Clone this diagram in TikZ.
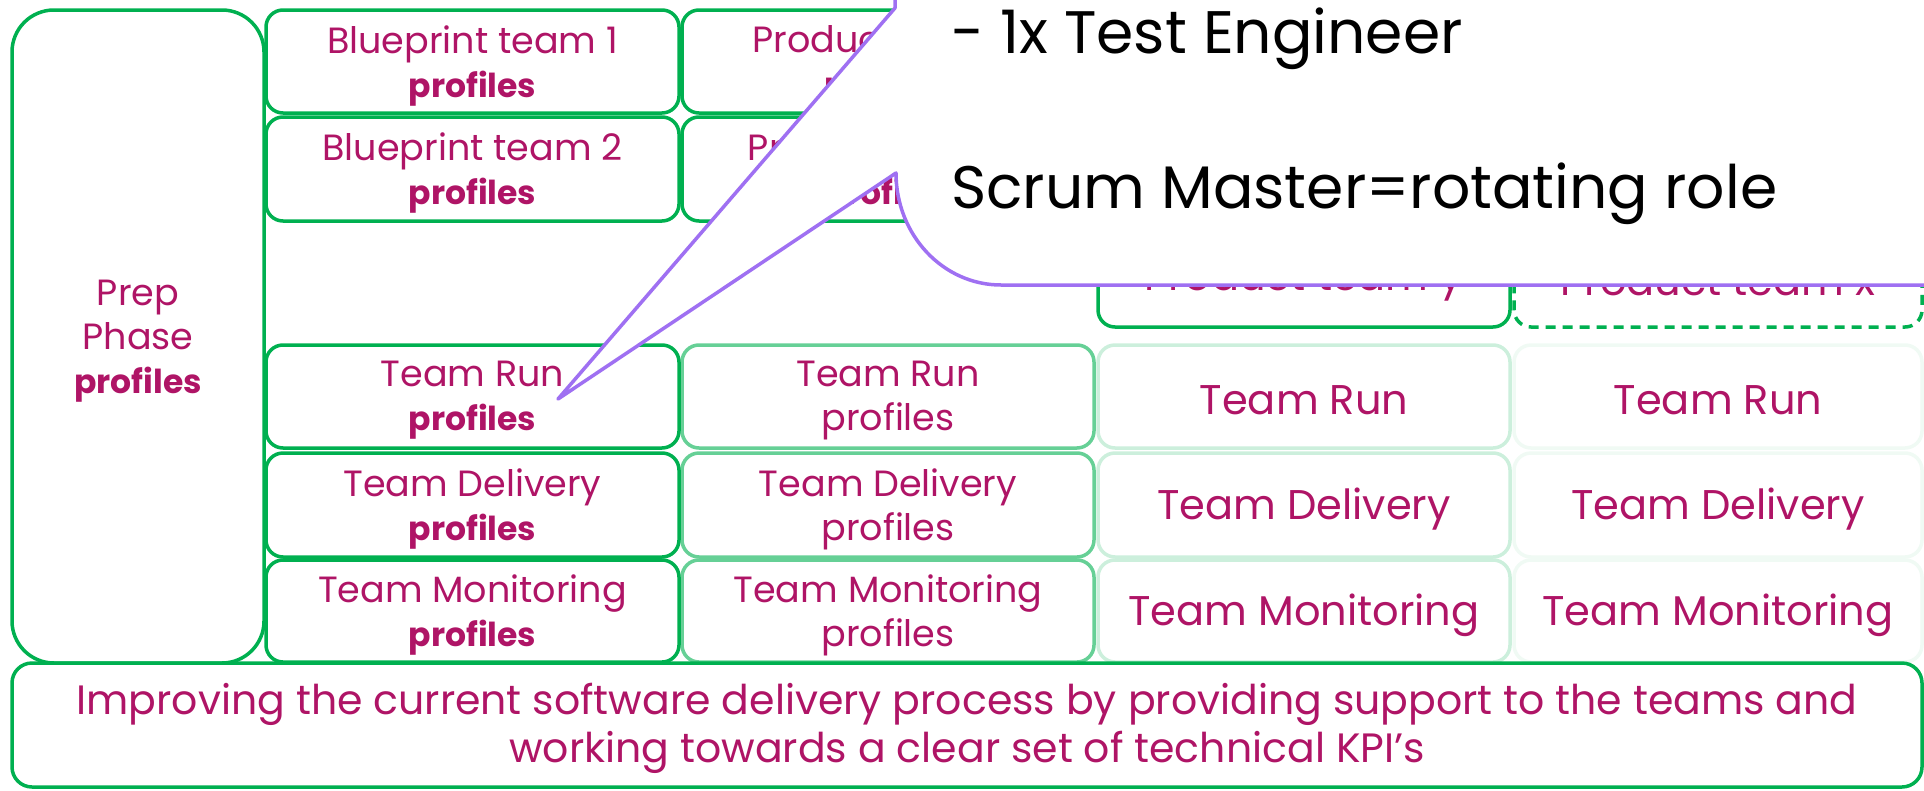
\documentclass[tikz,border=0pt]{standalone}
\usepackage{fontspec}
\setmainfont{Poppins}

\definecolor{gA}{HTML}{00B050}
\definecolor{gB}{HTML}{66D096}
\definecolor{gC}{HTML}{CCEFDC}
\definecolor{gD}{HTML}{F0FAF4}
\definecolor{mag}{HTML}{AF1466}
\definecolor{callout}{HTML}{9F70F2}

% bold second line of a cell
\newcommand\boldprof{{\fontsize{33}{44}\selectfont\bfseries profiles}}

% a cell: style, name, left, top, right, bottom, text
% the frame is node #2, its caption node #2t sits slightly below the centre
\newcommand\cellbox[7]{%
  \node[#1, minimum width={#5pt-#3pt}, minimum height={#6pt-#4pt}]
    (#2) at ({(#3+#5)/2},{(#4+#6)/2}) {};
  \node[#1, draw=none, fill=none] (#2t) at ([yshift=-4pt]#2.center) {#7};}

\tikzset{
  cellbase/.style={rounded corners=17pt, line width=3.5pt, align=center,
    text=mag, inner sep=0pt, fill=white},
  small/.style={font=\fontsize{36.5}{44}\selectfont},
  large/.style={font=\fontsize{41.5}{50}\selectfont},
  colA/.style={cellbase, small, draw=gA},
  colB/.style={cellbase, small, draw=gB},
  colC/.style={cellbase, large, draw=gC},
  colD/.style={cellbase, large, draw=gD},
  prodbox/.style={cellbase, large, draw=gA},
  proddash/.style={cellbase, large, draw=gA, dash pattern=on 10pt off 7pt},
  calltext/.style={anchor=base west, inner sep=0pt, text=black,
    font=\fontsize{60}{75}\selectfont},
}

\begin{document}
\begin{tikzpicture}[x=1pt, y=-1pt]
\useasboundingbox (0,0) rectangle (1924,790);
\clip (0,0) rectangle (1924,790);

% preparation column
\node[cellbase, draw=gA, rounded corners=42pt,
      minimum width=252pt, minimum height=653pt] (prep) at (138,336.5) {};
\node[cellbase, small] (prept) at ([yshift=-5pt]prep.center)
  {Prep\\Phase\\\boldprof};

% blueprint rows
\cellbox{colA}{bp1}{266}{10}{679}{113}{Blueprint team 1\\\boldprof}
\cellbox{colA}{bp2}{266}{117}{679}{221}{Blueprint team 2\\\boldprof}
\cellbox{colA}{pt1}{682}{10}{1094}{113}{Product team 1\\\boldprof}
\cellbox{colA}{pt2}{682}{117}{1094}{221}{Product team 2\\\boldprof}

% product teams
\cellbox{prodbox}{pty}{1098}{225}{1510}{327}{Product team y}
\cellbox{proddash}{ptx}{1514}{225}{1922}{327}{Product team x}

% team rows, fading to the right
\cellbox{colD}{run4}{1514}{345}{1922}{448}{Team Run}
\cellbox{colD}{del4}{1514}{453}{1922}{557}{Team Delivery}
\cellbox{colD}{mon4}{1514}{560}{1922}{662}{Team Monitoring}
\cellbox{colC}{run3}{1098}{345}{1510}{448}{Team Run}
\cellbox{colC}{del3}{1098}{453}{1510}{557}{Team Delivery}
\cellbox{colC}{mon3}{1098}{560}{1510}{662}{Team Monitoring}
\cellbox{colB}{run2}{682}{345}{1094}{448}{Team Run\\profiles}
\cellbox{colB}{del2}{682}{453}{1094}{557}{Team Delivery\\profiles}
\cellbox{colB}{mon2}{682}{560}{1094}{662}{Team Monitoring\\profiles}
\cellbox{colA}{run1}{266}{345}{679}{448}{Team Run\\\boldprof}
\cellbox{colA}{del1}{266}{453}{679}{557}{Team Delivery\\\boldprof}
\cellbox{colA}{mon1}{266}{560}{679}{662}{Team Monitoring\\\boldprof}

% goal statement
\node[cellbase, draw=gA, rounded corners=20pt, minimum width=1910pt,
      minimum height=124pt] (goal) at (967,725) {};
\node[cellbase, fill=none, font=\fontsize{41}{48}\selectfont]
  (goalt) at ([yshift=-3pt]goal.center)
  {Improving the current software delivery process by providing support to the teams and\\
   working towards a clear set of technical KPI’s};

% speech bubble pointing at the run team
\coordinate (tip) at (558,399);
\draw[callout, line width=3.5pt, fill=white, line join=round]
  (895,-300) -- (895,8) -- (tip) -- (896,173)
  .. controls (896,235) and (943,285) .. (1001,285)
  -- (2100,285) -- (2100,-300) -- cycle;
\node[calltext] (role1) at (951,53) {- 1x Test Engineer};
\node[calltext] (role2) at (951,208) {Scrum Master=rotating role};
\end{tikzpicture}
\end{document}
